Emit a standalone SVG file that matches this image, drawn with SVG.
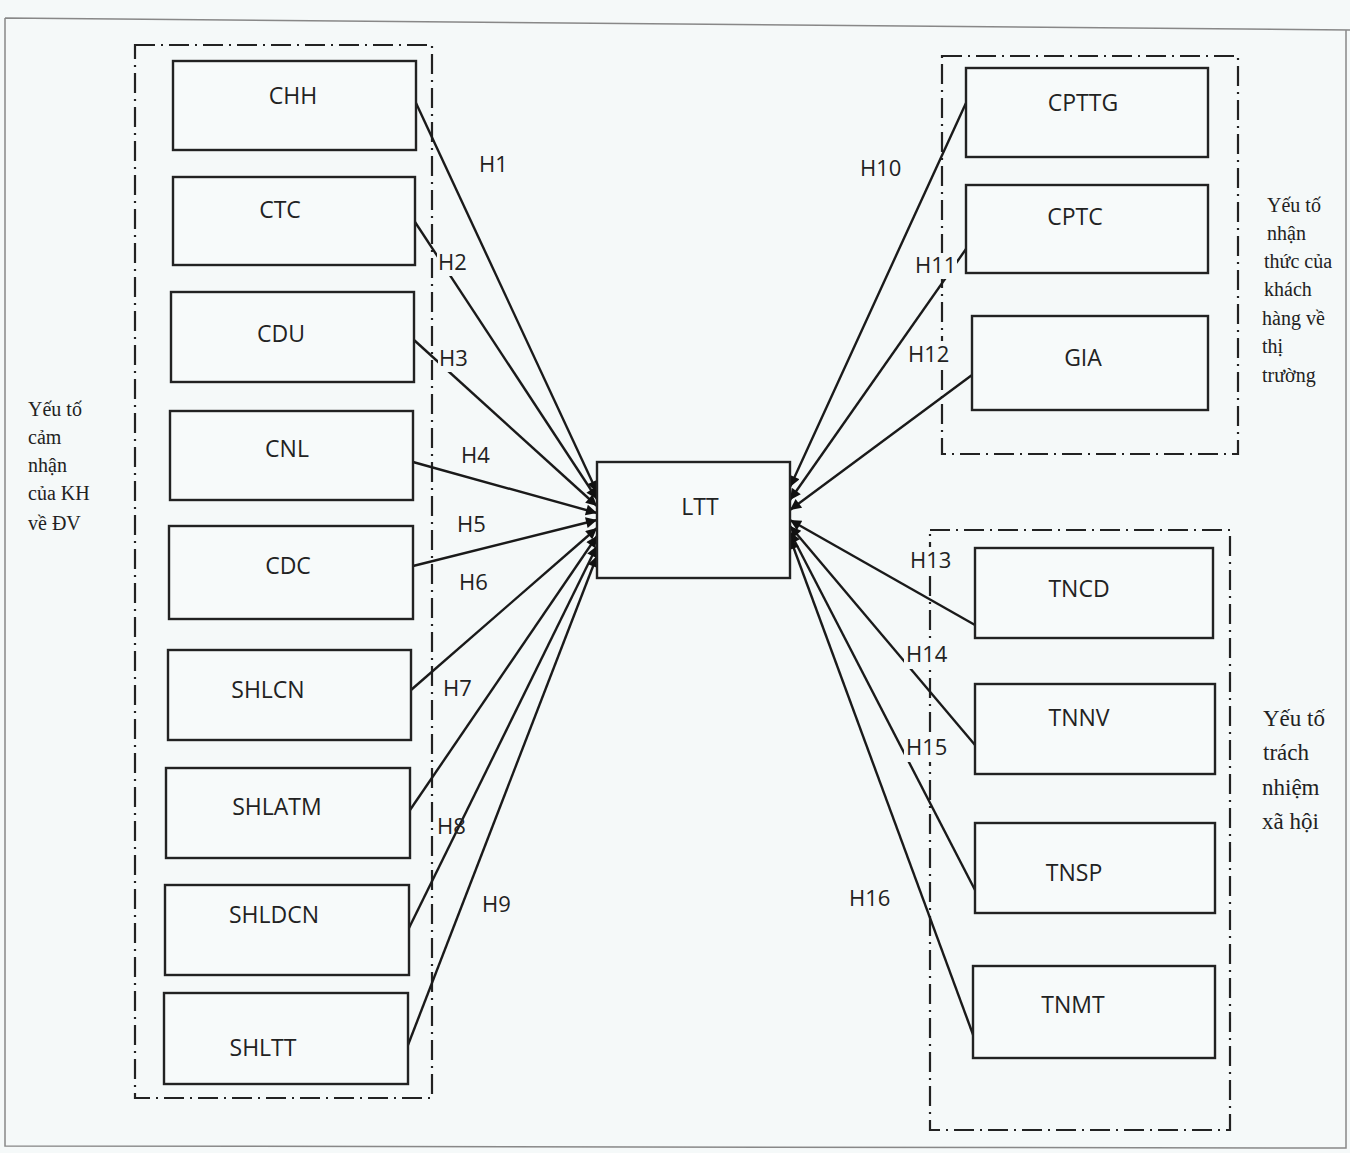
<svg xmlns="http://www.w3.org/2000/svg" width="1350" height="1153" viewBox="0 0 1350 1153">
<defs>
<marker id="ah" viewBox="0 0 10 10" refX="10" refY="5" markerWidth="13" markerHeight="11" orient="auto" markerUnits="userSpaceOnUse">
<path d="M0,0 L10,5 L0,10 z" fill="#111"/>
</marker>
<style>
.bg{fill:#f5f9f9}
.frame{fill:none;stroke:#888;stroke-width:1.5}
.grp{fill:none;stroke:#222;stroke-width:2.2;stroke-dasharray:20 6 2 6}
.box rect{fill:#f7fafa;stroke:#222;stroke-width:2.4}
.box text{font-family:"Open Sans","Liberation Sans",sans-serif;font-size:23px;fill:#222;text-anchor:middle}
.h{font-family:"Open Sans","Liberation Sans",sans-serif;font-size:22px;fill:#222}
.hb{fill:#f5f9f9}
.cap{font-family:"Liberation Serif","DejaVu Serif",serif;font-size:20px;fill:#222}
.cap2{font-family:"Liberation Serif","DejaVu Serif",serif;font-size:23px;fill:#222}
#connectors line{stroke:#1a1a1a;stroke-width:2.4;fill:none}
</style>
</defs>
<rect class="bg" x="0" y="0" width="1350" height="1153"/>
<path class="frame" d="M5,18 L1350,30 M5,18 L5,1146 L1346,1148 L1346,30"/>

<g id="groups">
<rect class="grp" x="135" y="45" width="297" height="1053"/>
<rect class="grp" x="942" y="56" width="296" height="398"/>
<rect class="grp" x="930" y="530" width="300" height="600"/>
</g>

<g id="connectors">
<line x1="416" y1="103" x2="597" y2="492" marker-end="url(#ah)"/>
<line x1="415" y1="222" x2="597" y2="499" marker-end="url(#ah)"/>
<line x1="414" y1="340" x2="597" y2="506" marker-end="url(#ah)"/>
<line x1="413" y1="462" x2="597" y2="513" marker-end="url(#ah)"/>
<line x1="413" y1="566" x2="597" y2="520" marker-end="url(#ah)"/>
<line x1="411" y1="690" x2="597" y2="528" marker-end="url(#ah)"/>
<line x1="410" y1="810" x2="597" y2="536" marker-end="url(#ah)"/>
<line x1="408" y1="930" x2="597" y2="546" marker-end="url(#ah)"/>
<line x1="408" y1="1045" x2="597" y2="556" marker-end="url(#ah)"/>
<line x1="966" y1="103" x2="790" y2="487" marker-end="url(#ah)"/>
<line x1="966" y1="249" x2="790" y2="500" marker-end="url(#ah)"/>
<line x1="972" y1="375" x2="790" y2="510" marker-end="url(#ah)"/>
<line x1="975" y1="625" x2="790" y2="520" marker-end="url(#ah)"/>
<line x1="975" y1="745" x2="790" y2="526" marker-end="url(#ah)"/>
<line x1="975" y1="890" x2="790" y2="532" marker-end="url(#ah)"/>
<line x1="975" y1="1040" x2="790" y2="538" marker-end="url(#ah)"/>
</g>

<g id="labels">
<rect class="hb" x="437" y="250" width="32" height="26"/>
<rect class="hb" x="438" y="346" width="32" height="26"/>
<rect class="hb" x="913" y="253" width="44" height="26"/>
<rect class="hb" x="906" y="341" width="44" height="28"/>
<rect class="hb" x="907" y="547" width="46" height="28"/>
<rect class="hb" x="904" y="641" width="46" height="28"/>
<rect class="hb" x="904" y="734" width="46" height="28"/>
<text class="h" x="479" y="172">H1</text>
<text class="h" x="438" y="270">H2</text>
<text class="h" x="439" y="366">H3</text>
<text class="h" x="461" y="463">H4</text>
<text class="h" x="457" y="532">H5</text>
<text class="h" x="459" y="590">H6</text>
<text class="h" x="443" y="696">H7</text>
<text class="h" x="437" y="834">H8</text>
<text class="h" x="482" y="912">H9</text>
<text class="h" x="860" y="176">H10</text>
<text class="h" x="915" y="273">H11</text>
<text class="h" x="908" y="362">H12</text>
<text class="h" x="910" y="568">H13</text>
<text class="h" x="906" y="662">H14</text>
<text class="h" x="906" y="755">H15</text>
<text class="h" x="849" y="906">H16</text>
</g>

<g id="node-CHH" class="box"><rect x="173" y="61" width="243" height="89"/><text x="293" y="104">CHH</text></g>
<g id="node-CTC" class="box"><rect x="173" y="177" width="242" height="88"/><text x="280" y="218">CTC</text></g>
<g id="node-CDU" class="box"><rect x="171" y="292" width="243" height="90"/><text x="281" y="342">CDU</text></g>
<g id="node-CNL" class="box"><rect x="170" y="411" width="243" height="89"/><text x="287" y="457">CNL</text></g>
<g id="node-CDC" class="box"><rect x="169" y="526" width="244" height="93"/><text x="288" y="574">CDC</text></g>
<g id="node-SHLCN" class="box"><rect x="168" y="650" width="243" height="90"/><text x="268" y="698">SHLCN</text></g>
<g id="node-SHLATM" class="box"><rect x="166" y="768" width="244" height="90"/><text x="277" y="815">SHLATM</text></g>
<g id="node-SHLDCN" class="box"><rect x="165" y="885" width="244" height="90"/><text x="274" y="923">SHLDCN</text></g>
<g id="node-SHLTT" class="box"><rect x="164" y="993" width="244" height="91"/><text x="263" y="1056">SHLTT</text></g>

<g id="node-LTT" class="box"><rect x="597" y="462" width="193" height="116"/><text x="700" y="515">LTT</text></g>

<g id="node-CPTTG" class="box"><rect x="966" y="68" width="242" height="89"/><text x="1083" y="111">CPTTG</text></g>
<g id="node-CPTC" class="box"><rect x="966" y="185" width="242" height="88"/><text x="1075" y="225">CPTC</text></g>
<g id="node-GIA" class="box"><rect x="972" y="316" width="236" height="94"/><text x="1083" y="366">GIA</text></g>
<g id="node-TNCD" class="box"><rect x="975" y="548" width="238" height="90"/><text x="1079" y="597">TNCD</text></g>
<g id="node-TNNV" class="box"><rect x="975" y="684" width="240" height="90"/><text x="1079" y="726">TNNV</text></g>
<g id="node-TNSP" class="box"><rect x="975" y="823" width="240" height="90"/><text x="1074" y="881">TNSP</text></g>
<g id="node-TNMT" class="box"><rect x="973" y="966" width="242" height="92"/><text x="1073" y="1013">TNMT</text></g>

<g id="captions">
<text class="cap" x="28" y="416">Yếu tố</text>
<text class="cap" x="28" y="444">cảm</text>
<text class="cap" x="28" y="472">nhận</text>
<text class="cap" x="28" y="500">của KH</text>
<text class="cap" x="28" y="530">về ĐV</text>
<text class="cap" x="1267" y="212">Yếu tố</text>
<text class="cap" x="1267" y="240">nhận</text>
<text class="cap" x="1264" y="268">thức của</text>
<text class="cap" x="1264" y="296">khách</text>
<text class="cap" x="1262" y="325">hàng về</text>
<text class="cap" x="1262" y="353">thị</text>
<text class="cap" x="1262" y="382">trường</text>
<text class="cap2" x="1263" y="726">Yếu tố</text>
<text class="cap2" x="1263" y="760">trách</text>
<text class="cap2" x="1262" y="795">nhiệm</text>
<text class="cap2" x="1262" y="829">xã hội</text>
</g>
</svg>
